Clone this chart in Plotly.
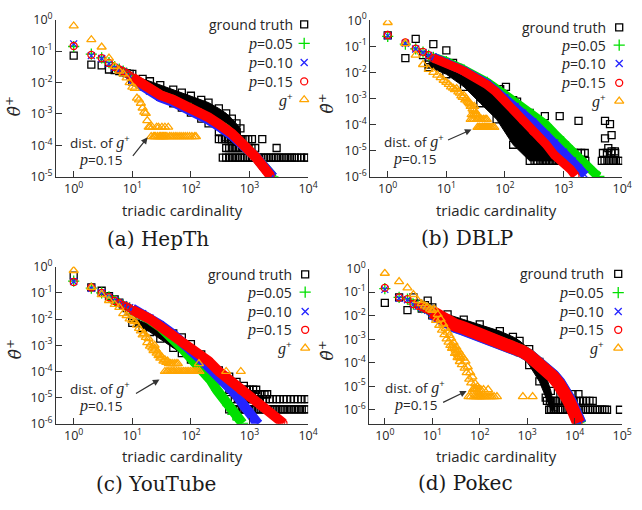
import plotly.graph_objects as go

W, H = 642, 510

# ---------------------------------------------------------------------------
# (a) HepTh
# ---------------------------------------------------------------------------
HEPTH_TRUTH_X = [1, 2, 3, 4, 5, 6, 7, 8, 9]
HEPTH_TRUTH_Y = [0.072, 0.037, 0.035, 0.026, 0.025, 0.023, 0.021, 0.020, 0.019]
HEPTH_TRUTH_BAND_X = [10, 15, 20, 30, 50, 70, 100, 150, 200, 300, 400, 500, 600, 700]
HEPTH_TRUTH_BAND_HI = [0.019, 0.013, 0.011, 8.3e-3, 6.0e-3, 4.8e-3, 3.8e-3, 2.8e-3, 2.3e-3, 1.5e-3, 1.05e-3, 7.1e-4, 5.0e-4, 3.5e-4]
HEPTH_TRUTH_BAND_LO = [0.011, 7.6e-3, 5.6e-3, 3.5e-3, 2.2e-3, 1.6e-3, 1.1e-3, 7.1e-4, 5.0e-4, 2.8e-4, 1.8e-4, 1.4e-4, 1.3e-4, 1.3e-4]
HEPTH_TRUTH_TAIL_LEVELS = [4.1e-5, 8.3e-5, 1.6e-4]
HEPTH_TRUTH_TAIL_X = [
    [350, 400, 450, 500, 560, 620, 690, 760, 840, 930, 1030, 1140, 1260, 1400, 1550, 1720, 1900,
     2100, 2330, 2580, 2850, 3150, 3500, 3900, 4300, 4800, 5300, 5900, 6500, 7600, 8600, 9600],
    [400, 450, 500, 560, 620, 690, 770, 860, 960, 1080, 1250, 2900],
    [300, 340, 380, 430, 480, 540, 600, 680, 760, 850, 950, 1100, 1650],
]
HEPTH_P05_X = [1, 2, 3, 4, 5, 6, 7, 8, 9]
HEPTH_P05_Y = [0.14, 0.080, 0.061, 0.043, 0.032, 0.027, 0.023, 0.020, 0.017]
HEPTH_P05_BAND_X = [10, 15, 20, 30, 50, 70, 100, 150, 200, 300, 400, 500, 700, 900, 1100, 1300, 1500, 1700, 1900, 2100, 2300, 2500]
HEPTH_P05_BAND_Y = [0.014, 8.8e-3, 6.2e-3, 3.9e-3, 2.7e-3, 2.0e-3, 1.5e-3, 1.0e-3, 7.5e-4, 4.6e-4, 3.3e-4, 2.3e-4,
                    1.3e-4, 8.8e-5, 6.0e-5, 4.2e-5, 3.0e-5, 2.2e-5, 1.7e-5, 1.35e-5, 1.12e-5, 1.0e-5]
HEPTH_P10_X = [1, 2, 3, 4, 5, 6, 7, 8, 9]
HEPTH_P10_Y = [0.17, 0.072, 0.058, 0.040, 0.030, 0.025, 0.022, 0.019, 0.016]
HEPTH_P10_BAND_X = [10, 15, 20, 30, 50, 70, 100, 150, 200, 300, 400, 500, 700, 900, 1100, 1300, 1500, 1700, 1900, 2100, 2300, 2500]
HEPTH_P10_BAND_Y = [0.0125, 7.8e-3, 5.5e-3, 3.4e-3, 2.4e-3, 1.8e-3, 1.3e-3, 9.0e-4, 6.6e-4, 4.1e-4, 3.0e-4, 2.1e-4,
                    1.2e-4, 8.3e-5, 5.8e-5, 4.2e-5, 3.0e-5, 2.2e-5, 1.7e-5, 1.4e-5, 1.15e-5, 1.0e-5]
HEPTH_P15_X = [1, 2, 3, 4, 5, 6, 7, 8, 9]
HEPTH_P15_Y = [0.145, 0.076, 0.060, 0.042, 0.031, 0.026, 0.023, 0.020, 0.017]
HEPTH_P15_BAND_X = [10, 15, 20, 30, 50, 70, 100, 150, 200, 300, 400, 500, 700, 900, 1100, 1300, 1500, 1700, 1900, 2100, 2300]
HEPTH_P15_BAND_Y = [0.0145, 9.1e-3, 6.5e-3, 4.0e-3, 2.8e-3, 2.1e-3, 1.55e-3, 1.05e-3, 7.8e-4, 4.8e-4, 3.4e-4, 2.4e-4,
                    1.3e-4, 8.9e-5, 5.9e-5, 4.1e-5, 2.9e-5, 2.0e-5, 1.6e-5, 1.26e-5, 1.05e-5]
HEPTH_GPLUS_X = [1, 2, 3, 4, 5, 6, 7, 8, 9, 10, 11, 12, 13, 14, 15, 16, 17, 18]
HEPTH_GPLUS_Y = [0.63, 0.23, 0.135, 0.060, 0.033, 0.023, 0.019, 0.014, 0.010, 7.2e-3, 6.5e-3, 3.2e-3, 2.8e-3,
                 2.2e-3, 1.55e-3, 1.15e-3, 1.05e-3, 6.2e-4]
HEPTH_GPLUS_TAIL_LEVELS = [1.9e-4, 3.8e-4]
HEPTH_GPLUS_TAIL_X = [
    [21, 23, 24, 25, 27, 29, 30, 31, 33, 34, 35, 37, 39, 43, 46, 50, 54, 58, 63, 68, 74, 80, 87, 95, 104, 115, 122],
    [19, 20, 22, 26, 28, 32, 36, 41],
]

# ---------------------------------------------------------------------------
# (b) DBLP
# ---------------------------------------------------------------------------
DBLP_TRUTH_X = [1, 2, 3, 4, 5, 6, 10, 13, 16, 83, 104, 161, 280, 480, 860, 1800, 440, 830, 1070,
                5100, 6200, 6600, 5100, 5800, 6600, 7500]
DBLP_TRUTH_Y = [0.26, 0.035, 0.19, 0.046, 0.020, 0.12, 0.070, 0.023, 0.015, 2.3e-3, 2.8e-3, 7.6e-4, 2.1e-4,
                2.1e-4, 2.1e-4, 1.4e-4, 2.2e-5, 1.26e-5, 9.5e-6, 1.4e-4, 1.05e-4, 4.0e-5, 3.0e-5, 1.26e-5,
                9.5e-6, 9.5e-6]
DBLP_TRUTH_BAND_X = [5, 10, 20, 38, 72, 138, 265, 500, 830, 1100]
DBLP_TRUTH_BAND_HI = [0.025, 0.017, 8.5e-3, 4.8e-3, 2.0e-3, 8.7e-4, 2.8e-4, 6.9e-5, 2.0e-5, 7.9e-6]
DBLP_TRUTH_BAND_LO = [0.016, 8.5e-3, 2.8e-3, 6.6e-4, 1.6e-4, 1.7e-5, 4.1e-6, 4.1e-6, 4.1e-6, 4.1e-6]
DBLP_TRUTH_TAIL_LEVELS = [4.1e-6, 8.2e-6]
DBLP_TRUTH_TAIL_X = [
    [320, 360, 400, 450, 500, 560, 630, 700, 780, 870, 970, 1080, 1200, 1340, 1500, 1670, 1860, 2080, 2350,
     4500, 5000, 5600, 6300, 7000, 7800, 8700, 9600],
    [400, 480, 560, 650, 760, 880, 1000, 1150, 1300, 1500, 1750, 2000, 2300, 4700, 5500, 6500, 7600],
]
DBLP_P05_X = [1, 2, 3, 4, 5]
DBLP_P05_Y = [0.24, 0.12, 0.080, 0.060, 0.045]
DBLP_P05_BAND_X = [6, 10, 20, 50, 100, 150, 200, 300, 500, 700, 1000, 1400, 2000, 2700, 3500, 4000]
DBLP_P05_BAND_Y = [0.038, 0.026, 0.0126, 4.2e-3, 1.4e-3, 7.1e-4, 4.2e-4, 2.4e-4, 1.0e-4, 4.5e-5, 2.2e-5, 1.0e-5,
                   4.5e-6, 2.3e-6, 1.3e-6, 1.05e-6]
DBLP_P10_X = [1, 2, 3, 4, 5]
DBLP_P10_Y = [0.25, 0.13, 0.078, 0.058, 0.044]
DBLP_P10_BAND_X = [6, 10, 20, 50, 100, 150, 200, 300, 500, 700, 1000, 1400, 1800, 2300]
DBLP_P10_BAND_Y = [0.038, 0.025, 0.0115, 3.7e-3, 1.1e-3, 5.0e-4, 2.8e-4, 1.26e-4, 4.0e-5, 2.0e-5, 8.9e-6, 4.1e-6,
                   2.2e-6, 1.2e-6]
DBLP_P15_X = [1, 2, 3, 4, 5]
DBLP_P15_Y = [0.27, 0.14, 0.081, 0.061, 0.046]
DBLP_P15_BAND_X = [6, 8, 10, 15, 20, 30, 50, 70, 100, 150, 200, 300, 400, 500, 700, 1000, 1300, 1600]
DBLP_P15_BAND_Y = [0.035, 0.028, 0.023, 0.015, 0.011, 6.6e-3, 3.3e-3, 1.8e-3, 7.9e-4, 3.2e-4, 1.45e-4, 5.5e-5,
                   3.0e-5, 1.8e-5, 6.8e-6, 3.5e-6, 2.0e-6, 1.1e-6]
DBLP_GPLUS_X = [1, 2, 3, 4, 5, 6, 7, 8, 9, 10, 11, 12, 13, 14, 15, 16, 17, 18, 19, 20, 21, 22, 23, 24, 25,
                26, 27, 28, 29, 30, 31, 32]
DBLP_GPLUS_Y = [0.81, 0.126, 0.046, 0.020, 0.013, 0.010, 7.9e-3, 6.3e-3, 5.0e-3, 4.2e-3, 3.5e-3, 2.8e-3, 2.5e-3,
                2.2e-3, 2.4e-3, 1.8e-3, 1.6e-3, 1.26e-3, 1.1e-3, 1.3e-3, 8.9e-4, 1.0e-3, 7.9e-4, 7.1e-4, 6.3e-4,
                5.0e-4, 5.6e-4, 4.0e-4, 3.5e-4, 5.0e-4, 3.2e-4, 2.5e-4]
DBLP_GPLUS_TAIL_LEVELS = [7.9e-5, 1.6e-4, 2.4e-4]
DBLP_GPLUS_TAIL_X = [
    [34, 36, 37, 39, 41, 42, 44, 45, 47, 48, 50, 52, 55, 58, 62, 66],
    [26, 28, 30, 33, 35, 38, 40, 43, 46, 49],
    [27, 29, 31, 32, 34],
]

# ---------------------------------------------------------------------------
# (c) YouTube
# ---------------------------------------------------------------------------
YOUTUBE_TRUTH_X = [1, 2, 3, 4, 5, 6, 7, 8, 9]
YOUTUBE_TRUTH_Y = [0.45, 0.16, 0.12, 0.074, 0.056, 0.042, 0.032, 0.026, 0.021]
YOUTUBE_TRUTH_BAND_X = [10, 15, 20, 30, 50, 70, 100, 150, 200, 300, 450, 600, 800]
YOUTUBE_TRUTH_BAND_HI = [0.011, 7.9e-3, 6.3e-3, 4.5e-3, 2.8e-3, 2.0e-3, 1.1e-3, 4.5e-4, 2.2e-4, 1.1e-4, 6.3e-5, 4.0e-5, 2.8e-5]
YOUTUBE_TRUTH_BAND_LO = [7.1e-3, 4.5e-3, 3.2e-3, 1.8e-3, 7.9e-4, 5.0e-4, 2.8e-4, 1.26e-4, 7.9e-5, 4.5e-5, 2.0e-5, 1.26e-5, 1.0e-5]
YOUTUBE_TRUTH_TAIL_LEVELS = [3.6e-6, 8.8e-6, 1.35e-5, 2.0e-5]
YOUTUBE_TRUTH_TAIL_X = [
    [450, 500, 560, 620, 690, 770, 850, 950, 1050, 1170, 1300, 1450, 1600, 1800, 2000, 2200, 2450, 2700, 3000,
     3350, 3700, 4100, 4600, 5100, 5700, 6300, 7000, 7800, 8700, 9600],
    [480, 560, 650, 750, 850, 950, 1050, 1200, 1350, 1500, 1700, 1900, 2200, 2500, 2900, 3300, 3800, 4300, 5000,
     5800, 6700, 7700, 8800, 9800],
    [1000, 1100, 1250, 1400, 1600, 1800, 2000],
    [800, 900, 1000, 1150, 1300],
]
YOUTUBE_P05_X = [1, 2, 3, 4, 5, 6, 7, 8, 9]
YOUTUBE_P05_Y = [0.28, 0.15, 0.10, 0.070, 0.050, 0.040, 0.034, 0.030, 0.026]
YOUTUBE_P05_BAND_X = [10, 15, 20, 30, 50, 70, 100, 130, 170, 220, 280, 350, 430, 520, 640, 760]
YOUTUBE_P05_BAND_Y = [0.022, 0.014, 9.5e-3, 5.0e-3, 1.8e-3, 7.9e-4, 3.2e-4, 1.7e-4, 8.9e-5, 4.5e-5, 1.9e-5, 1.0e-5,
                      5.0e-6, 2.3e-6, 1.4e-6, 1.05e-6]
YOUTUBE_P10_X = [1, 2, 3, 4, 5, 6, 7, 8, 9]
YOUTUBE_P10_Y = [0.27, 0.15, 0.10, 0.070, 0.050, 0.041, 0.035, 0.031, 0.027]
YOUTUBE_P10_BAND_X = [10, 15, 20, 30, 50, 70, 100, 150, 200, 300, 450, 600, 800, 1000, 1200, 1400]
YOUTUBE_P10_BAND_Y = [0.025, 0.016, 0.011, 6.0e-3, 2.6e-3, 1.4e-3, 6.3e-4, 2.8e-4, 1.5e-4, 6.3e-5, 2.3e-5, 1.26e-5,
                      5.0e-6, 2.8e-6, 1.4e-6, 1.0e-6]
YOUTUBE_P15_X = [1, 2, 3, 4, 5, 6, 7, 8, 9]
YOUTUBE_P15_Y = [0.26, 0.16, 0.10, 0.068, 0.049, 0.040, 0.034, 0.030, 0.026]
YOUTUBE_P15_BAND_X = [10, 15, 20, 30, 50, 70, 100, 150, 200, 300, 450, 700, 1000, 1500, 2000, 2500, 3000, 3500, 3800]
YOUTUBE_P15_BAND_Y = [0.022, 0.0145, 0.010, 5.2e-3, 2.3e-3, 1.26e-3, 7.9e-4, 4.1e-4, 2.5e-4, 1.0e-4, 4.8e-5, 1.9e-5,
                      1.0e-5, 5.0e-6, 3.2e-6, 2.1e-6, 1.6e-6, 1.2e-6, 1.05e-6]
YOUTUBE_GPLUS_X = [1, 2, 3, 4, 5, 6, 7, 8, 9, 10, 11, 12, 13, 14, 15, 16, 17, 18, 19, 20, 21, 22, 23, 24, 25,
                   26, 27, 28, 29, 30, 32, 34, 36, 38, 40]
YOUTUBE_GPLUS_Y = [0.71, 0.16, 0.085, 0.051, 0.036, 0.028, 0.016, 0.0135, 0.0102, 8.9e-3, 7.9e-3, 5.9e-3, 4.4e-3,
                   3.5e-3, 2.5e-3, 2.8e-3, 2.0e-3, 1.26e-3, 1.8e-3, 9.3e-4, 1.1e-3, 7.9e-4, 6.3e-4, 1.0e-3, 7.1e-4,
                   5.0e-4, 5.6e-4, 4.0e-4, 4.5e-4, 3.2e-4, 3.5e-4, 2.5e-4, 2.8e-4, 2.2e-4, 2.5e-4]
YOUTUBE_GPLUS_TAIL_LEVELS = [1.0e-4, 2.0e-4]
YOUTUBE_GPLUS_TAIL_X = [
    [36, 39, 41, 44, 47, 50, 53, 57, 61, 65, 70, 75, 80, 86, 92, 99, 106, 114, 122, 130, 140, 400, 710],
    [42, 45, 48, 52, 56, 60, 137],
]

# ---------------------------------------------------------------------------
# (d) Pokec
# ---------------------------------------------------------------------------
POKEC_TRUTH_X = [1, 2, 3, 4, 5, 6, 7, 8, 9]
POKEC_TRUTH_Y = [0.035, 0.060, 0.017, 0.059, 0.032, 0.020, 0.028, 0.043, 0.018]
POKEC_TRUTH_BAND_X = [10, 21, 46, 100, 265, 500, 690, 1100, 1800, 2450, 3150, 3700]
POKEC_TRUTH_BAND_HI = [0.0224, 0.0112, 6.8e-3, 4.2e-3, 2.2e-3, 1.26e-3, 8.5e-4, 3.8e-4, 1.07e-4, 3.0e-5, 6.3e-6, 1.26e-6]
POKEC_TRUTH_BAND_LO = [0.0102, 4.7e-3, 3.0e-3, 1.8e-3, 1.0e-3, 4.4e-4, 2.8e-4, 7.9e-5, 1.6e-5, 3.3e-6, 1.0e-6, 1.0e-6]
POKEC_TRUTH_TAIL_LEVELS = [1.0e-6, 2.4e-6, 4.6e-6]
POKEC_TRUTH_TAIL_X = [
    [2900, 3200, 3600, 4000, 4500, 5000, 5600, 6300, 7000, 7800, 8700, 9700, 10800, 12000, 13500, 15000, 17000,
     19000, 21000, 24000, 27000, 30000, 34000, 38000, 43000, 48000, 90000],
    [2600, 3000, 3400, 3900, 4400, 5000, 5700, 6500, 7400, 8500, 9500, 11000, 13000, 15000, 17500, 20500, 24000],
    [5000, 6800, 9000, 12000],
]
POKEC_P05_X = [1, 2, 3, 4, 5, 6, 7, 8, 9]
POKEC_P05_Y = [0.14, 0.060, 0.050, 0.031, 0.026, 0.022, 0.020, 0.018, 0.016]
POKEC_P05_BAND_X = [10, 15, 21, 30, 46, 70, 100, 150, 265, 500, 800, 1100, 1600, 2400, 3500, 4700, 6000, 7500, 9000,
                    10000, 11000, 12000, 13000]
POKEC_P05_BAND_Y = [0.013, 7.6e-3, 5.0e-3, 3.6e-3, 2.7e-3, 2.0e-3, 1.65e-3, 1.2e-3, 7.8e-4, 4.9e-4, 2.95e-4, 2.0e-4,
                    1.12e-4, 5.8e-5, 2.7e-5, 1.3e-5, 7.0e-6, 2.8e-6, 1.3e-6, 7.8e-7, 5.4e-7, 3.6e-7, 2.4e-7]
POKEC_P10_X = [1, 2, 3, 4, 5, 6, 7, 8, 9]
POKEC_P10_Y = [0.13, 0.055, 0.047, 0.030, 0.025, 0.022, 0.019, 0.017, 0.015]
POKEC_P10_BAND_X = [10, 15, 21, 30, 46, 70, 100, 150, 265, 500, 800, 1100, 1600, 2400, 3500, 4700, 6000, 7500, 9000,
                    10000, 11000, 12000, 13000]
POKEC_P10_BAND_Y = [0.0125, 7.4e-3, 4.8e-3, 3.5e-3, 2.6e-3, 1.95e-3, 1.6e-3, 1.15e-3, 7.6e-4, 4.8e-4, 2.9e-4, 2.0e-4,
                    1.15e-4, 6.0e-5, 2.8e-5, 1.4e-5, 7.4e-6, 3.0e-6, 1.4e-6, 8.5e-7, 6.0e-7, 4.0e-7, 2.6e-7]
POKEC_P15_X = [1, 2, 3, 4, 5, 6, 7, 8, 9]
POKEC_P15_Y = [0.15, 0.059, 0.050, 0.031, 0.026, 0.023, 0.020, 0.018, 0.016]
POKEC_P15_BAND_X = [10, 15, 21, 30, 46, 70, 100, 150, 265, 500, 800, 1100, 1600, 2400, 3500, 4700, 6000, 7500, 9000,
                    10000, 11000, 12000]
POKEC_P15_BAND_Y = [0.0141, 8.3e-3, 5.5e-3, 4.0e-3, 3.0e-3, 2.2e-3, 1.8e-3, 1.3e-3, 8.3e-4, 5.1e-4, 3.0e-4, 2.0e-4,
                    1.1e-4, 5.6e-5, 2.5e-5, 1.2e-5, 6.3e-6, 2.4e-6, 1.1e-6, 6.3e-7, 4.5e-7, 2.8e-7]
POKEC_GPLUS_X = [1, 2, 3, 4, 5, 6, 7, 8, 9, 10, 11, 12, 13, 14, 15, 16, 17, 18, 19, 20, 21, 22, 23, 24, 25, 26,
                 27, 28, 29, 30, 31, 32, 33, 34, 35, 36, 37, 38, 39, 40, 42, 45, 48, 50, 53, 56, 60, 63, 66, 70,
                 75, 80, 85, 90]
POKEC_GPLUS_Y = [0.63, 0.28, 0.15, 0.079, 0.043, 0.032, 0.026, 0.023, 0.019, 0.0166, 0.019, 6.3e-3, 0.0112, 3.9e-3,
                 7.1e-3, 2.4e-3, 4.4e-3, 1.55e-3, 2.9e-3, 1.02e-3, 2.0e-3, 7.4e-4, 1.45e-3, 5.4e-4, 1.07e-3, 4.1e-4,
                 5.4e-4, 7.2e-4, 4.3e-4, 2.5e-4, 3.4e-4, 4.6e-4, 2.75e-4, 1.66e-4, 2.2e-4, 3.1e-4, 1.86e-4, 1.12e-4,
                 1.58e-4, 2.2e-4, 8.3e-5, 1.58e-4, 5.9e-5, 1.17e-4, 3.8e-5, 6.6e-5, 2.0e-5, 3.8e-5, 1.38e-5, 2.5e-5,
                 7.9e-6, 1.29e-5, 7.4e-6, 9.5e-6]
POKEC_GPLUS_TAIL_LEVELS = [3.6e-6, 7.2e-6]
POKEC_GPLUS_TAIL_X = [
    [58, 65, 75, 82, 88, 92, 98, 102, 108, 115, 125, 135, 150, 165, 180, 200, 230, 810, 1300],
    [72, 78, 85, 95, 105, 120, 150],
]

# ---------------------------------------------------------------------------
# styling / layout
# ---------------------------------------------------------------------------
SANS = "Open Sans"
SERIF = "DejaVu Serif"
AXIS_COLOR = "#333333"
TEXT_COLOR = "#262626"

COLORS = {"truth": "#000000", "p05": "#00e000", "p10": "#2424ff", "p15": "#ff0000", "gplus": "#ffa500"}
SYMBOLS = {"truth": "square-open", "p05": "cross-thin-open", "p10": "x-thin-open",
           "p15": "circle-open", "gplus": "triangle-up-open"}
SIZES = {"truth": 7, "p05": 8, "p10": 7, "p15": 7, "gplus": 8}

# pixel boxes of the four plot areas and their log ranges
PANELS = [
    dict(left=57, right=313, top=10, bottom=173, xr=[-0.3, 4], yr=[-5, 0], xdec=4, ydec=5,
         band_w=10, caption="(a) HepTh", cap_x=161, cap_y=237, xt_x=185, xt_y=207, yt_x=14, yt_y=100,
         legend_rows=[15, 34.5, 54.5, 74, 93], key_x=309, text_right=300,
         dist_x=102, dist_y=137, pval_y=155, arrow=(150, 132, -16, 20)),
    dict(left=376, right=632, top=10.5, bottom=173, xr=[-0.3, 4], yr=[-6, 0], xdec=4, ydec=6,
         band_w=9, caption="(b) DBLP", cap_x=474, cap_y=236, xt_x=504, xt_y=207, yt_x=331, yt_y=97,
         legend_rows=[18, 36.5, 55.5, 75.5, 94.5], key_x=629, text_right=618,
         dist_x=421, dist_y=136, pval_y=154, arrow=(479, 124, -25, 11)),
    dict(left=57, right=313, top=266, bottom=429, xr=[-0.3, 4], yr=[-6, 0], xdec=4, ydec=6,
         band_w=10, caption="(c) YouTube", cap_x=158, cap_y=491, xt_x=185, xt_y=462, yt_x=14, yt_y=352,
         legend_rows=[274, 292.5, 312.5, 331.5, 350.5], key_x=310, text_right=299,
         dist_x=102, dist_y=392, pval_y=410, arrow=(162, 383, -25, 15)),
    dict(left=375, right=632, top=268, bottom=429, xr=[-0.33, 5], yr=[-6.6, 0], xdec=5, ydec=6,
         band_w=13, caption="(d) Pokec", cap_x=473, cap_y=490, xt_x=504, xt_y=462, yt_x=331, yt_y=353,
         legend_rows=[273.5, 293, 312.5, 331.5, 350.5], key_x=628, text_right=616,
         dist_x=422, dist_y=391, pval_y=409, arrow=(474, 395, -25, 12)),
]

DATASETS = [
    dict(truth=(HEPTH_TRUTH_X, HEPTH_TRUTH_Y), truth_band=(HEPTH_TRUTH_BAND_X, HEPTH_TRUTH_BAND_HI, HEPTH_TRUTH_BAND_LO),
         truth_tail=(HEPTH_TRUTH_TAIL_LEVELS, HEPTH_TRUTH_TAIL_X),
         p05=(HEPTH_P05_X, HEPTH_P05_Y, HEPTH_P05_BAND_X, HEPTH_P05_BAND_Y),
         p10=(HEPTH_P10_X, HEPTH_P10_Y, HEPTH_P10_BAND_X, HEPTH_P10_BAND_Y),
         p15=(HEPTH_P15_X, HEPTH_P15_Y, HEPTH_P15_BAND_X, HEPTH_P15_BAND_Y),
         gplus=(HEPTH_GPLUS_X, HEPTH_GPLUS_Y), gplus_tail=(HEPTH_GPLUS_TAIL_LEVELS, HEPTH_GPLUS_TAIL_X)),
    dict(truth=(DBLP_TRUTH_X, DBLP_TRUTH_Y), truth_band=(DBLP_TRUTH_BAND_X, DBLP_TRUTH_BAND_HI, DBLP_TRUTH_BAND_LO),
         truth_tail=(DBLP_TRUTH_TAIL_LEVELS, DBLP_TRUTH_TAIL_X),
         p05=(DBLP_P05_X, DBLP_P05_Y, DBLP_P05_BAND_X, DBLP_P05_BAND_Y),
         p10=(DBLP_P10_X, DBLP_P10_Y, DBLP_P10_BAND_X, DBLP_P10_BAND_Y),
         p15=(DBLP_P15_X, DBLP_P15_Y, DBLP_P15_BAND_X, DBLP_P15_BAND_Y),
         gplus=(DBLP_GPLUS_X, DBLP_GPLUS_Y), gplus_tail=(DBLP_GPLUS_TAIL_LEVELS, DBLP_GPLUS_TAIL_X)),
    dict(truth=(YOUTUBE_TRUTH_X, YOUTUBE_TRUTH_Y),
         truth_band=(YOUTUBE_TRUTH_BAND_X, YOUTUBE_TRUTH_BAND_HI, YOUTUBE_TRUTH_BAND_LO),
         truth_tail=(YOUTUBE_TRUTH_TAIL_LEVELS, YOUTUBE_TRUTH_TAIL_X),
         p05=(YOUTUBE_P05_X, YOUTUBE_P05_Y, YOUTUBE_P05_BAND_X, YOUTUBE_P05_BAND_Y),
         p10=(YOUTUBE_P10_X, YOUTUBE_P10_Y, YOUTUBE_P10_BAND_X, YOUTUBE_P10_BAND_Y),
         p15=(YOUTUBE_P15_X, YOUTUBE_P15_Y, YOUTUBE_P15_BAND_X, YOUTUBE_P15_BAND_Y),
         gplus=(YOUTUBE_GPLUS_X, YOUTUBE_GPLUS_Y), gplus_tail=(YOUTUBE_GPLUS_TAIL_LEVELS, YOUTUBE_GPLUS_TAIL_X)),
    dict(truth=(POKEC_TRUTH_X, POKEC_TRUTH_Y), truth_band=(POKEC_TRUTH_BAND_X, POKEC_TRUTH_BAND_HI, POKEC_TRUTH_BAND_LO),
         truth_tail=(POKEC_TRUTH_TAIL_LEVELS, POKEC_TRUTH_TAIL_X),
         p05=(POKEC_P05_X, POKEC_P05_Y, POKEC_P05_BAND_X, POKEC_P05_BAND_Y),
         p10=(POKEC_P10_X, POKEC_P10_Y, POKEC_P10_BAND_X, POKEC_P10_BAND_Y),
         p15=(POKEC_P15_X, POKEC_P15_Y, POKEC_P15_BAND_X, POKEC_P15_BAND_Y),
         gplus=(POKEC_GPLUS_X, POKEC_GPLUS_Y), gplus_tail=(POKEC_GPLUS_TAIL_LEVELS, POKEC_GPLUS_TAIL_X)),
]

P_HTML = "<span style='font-family:Liberation Serif;font-size:16px'><i>p</i></span>"
G_HTML = ("<span style='font-family:Liberation Serif;font-size:16px'><i>g</i></span>"
          f"<span style='font-family:{SANS}'><sup>+</sup></span>")
LEGEND_TEXT = ["ground truth", P_HTML + "=0.05", P_HTML + "=0.10", P_HTML + "=0.15", G_HTML]
LEGEND_KEYS = ["truth", "p05", "p10", "p15", "gplus"]


def marker(kind):
    c = COLORS[kind]
    return dict(symbol=SYMBOLS[kind], size=SIZES[kind], color=c, line=dict(color=c, width=1.3))


def px_x(p):
    return p / W


def px_y(p):
    return 1 - p / H


def label(text, x, y, size, family=SANS, color=TEXT_COLOR, xanchor="center", **kw):
    return dict(text=text, x=px_x(x), y=px_y(y), xref="paper", yref="paper", showarrow=False,
                xanchor=xanchor, yanchor="middle", font=dict(family=family, size=size, color=color), **kw)


fig = go.Figure()
annotations = []

for i, (pan, ds) in enumerate(zip(PANELS, DATASETS)):
    n = i + 1
    xa = "x" if n == 1 else f"x{n}"
    ya = "y" if n == 1 else f"y{n}"
    lx, ly = f"x{n + 4}", f"y{n + 4}"

    # ground truth: dense cloud, sparse head, count-level rows
    bx, bhi, blo = ds["truth_band"]
    fig.add_trace(go.Scatter(x=bx + bx[::-1], y=bhi + blo[::-1], mode="lines+markers", fill="toself",
                             fillcolor=COLORS["truth"], line=dict(color=COLORS["truth"], width=1),
                             marker=marker("truth"), xaxis=xa, yaxis=ya, showlegend=False, hoverinfo="skip"))
    tx, ty = ds["truth"]
    fig.add_trace(go.Scatter(x=tx, y=ty, mode="markers", marker=marker("truth"),
                             xaxis=xa, yaxis=ya, showlegend=False))
    levels, rows = ds["truth_tail"]
    for lev, rx in zip(levels, rows):
        fig.add_trace(go.Scatter(x=rx, y=[lev] * len(rx), mode="markers", marker=marker("truth"),
                                 xaxis=xa, yaxis=ya, showlegend=False))

    # sampled estimates p = 0.05, 0.10, 0.15
    for kind in ["p05", "p10", "p15"]:
        sx, sy, bx2, by2 = ds[kind]
        fig.add_trace(go.Scatter(x=bx2, y=by2, mode="lines+markers",
                                 line=dict(color=COLORS[kind], width=pan["band_w"]),
                                 marker=marker(kind), xaxis=xa, yaxis=ya, showlegend=False))
        fig.add_trace(go.Scatter(x=sx, y=sy, mode="markers", marker=marker(kind),
                                 xaxis=xa, yaxis=ya, showlegend=False))

    # distribution of g+ at p = 0.15
    gx, gy = ds["gplus"]
    fig.add_trace(go.Scatter(x=gx, y=gy, mode="markers", marker=marker("gplus"),
                             xaxis=xa, yaxis=ya, showlegend=False))
    levels, rows = ds["gplus_tail"]
    for lev, rx in zip(levels, rows):
        fig.add_trace(go.Scatter(x=rx, y=[lev] * len(rx), mode="markers", marker=marker("gplus"),
                                 xaxis=xa, yaxis=ya, showlegend=False))

    # legend keys on a hidden unit overlay
    for kind, row in zip(LEGEND_KEYS, pan["legend_rows"]):
        kx = (pan["key_x"] - pan["left"]) / (pan["right"] - pan["left"])
        ky = 1 - (row - pan["top"]) / (pan["bottom"] - pan["top"])
        fig.add_trace(go.Scatter(x=[kx], y=[ky], mode="markers", marker=marker(kind), cliponaxis=False,
                                 xaxis=lx, yaxis=ly, showlegend=False))
    for txt, row in zip(LEGEND_TEXT, pan["legend_rows"]):
        annotations.append(label(txt, pan["text_right"], row, 14, xanchor="right"))

    # axes
    dom_x = [px_x(pan["left"]), px_x(pan["right"])]
    dom_y = [px_y(pan["bottom"]), px_y(pan["top"])]
    xvals = [10 ** k for k in range(0, pan["xdec"] + 1)]
    yvals = [10 ** (-k) for k in range(0, pan["ydec"] + 1)]
    common = dict(type="log", showline=True, linecolor=AXIS_COLOR, linewidth=1, ticks="inside",
                  ticklen=6, tickwidth=1, tickcolor=AXIS_COLOR, showgrid=False, zeroline=False,
                  mirror=False, tickfont=dict(family=SANS, size=12.5, color=TEXT_COLOR))
    fig.layout[f"xaxis{'' if n == 1 else n}"] = dict(
        common, domain=dom_x, range=pan["xr"], anchor=ya, tickvals=xvals,
        ticktext=[f"10<sup>{k}</sup>" for k in range(0, pan["xdec"] + 1)])
    fig.layout[f"yaxis{'' if n == 1 else n}"] = dict(
        common, domain=dom_y, range=pan["yr"], anchor=xa, tickvals=yvals,
        ticktext=[f"10<sup>{-k}</sup>" for k in range(0, pan["ydec"] + 1)])
    fig.layout[f"xaxis{n + 4}"] = dict(overlaying=xa, range=[0, 1], visible=False, fixedrange=True)
    fig.layout[f"yaxis{n + 4}"] = dict(overlaying=ya, range=[0, 1], visible=False, fixedrange=True)

    # titles and captions
    annotations.append(label("triadic cardinality", pan["xt_x"], pan["xt_y"], 15))
    annotations.append(label("<i>\u03b8\u0302</i><sup>+</sup>", pan["yt_x"], pan["yt_y"], 17,
                             family=SERIF, textangle=-90))
    annotations.append(label(pan["caption"], pan["cap_x"], pan["cap_y"], 20, family=SERIF, color="#1a1a1a"))
    annotations.append(label("dist. of " + G_HTML, pan["dist_x"], pan["dist_y"], 13.5))
    annotations.append(label(P_HTML + "=0.15", pan["dist_x"], pan["pval_y"], 13.5))
    hx, hy, ax, ay = pan["arrow"]
    annotations.append(dict(text="", x=px_x(hx), y=px_y(hy), xref="paper", yref="paper",
                            showarrow=True, ax=ax, ay=ay, arrowhead=2, arrowsize=1.1, arrowwidth=1.2,
                            arrowcolor="#333333"))

fig.update_layout(width=W, height=H, margin=dict(l=0, r=0, t=0, b=0), autosize=False,
                  paper_bgcolor="white", plot_bgcolor="white", annotations=annotations,
                  showlegend=False)

fig.write_html("out.html")
